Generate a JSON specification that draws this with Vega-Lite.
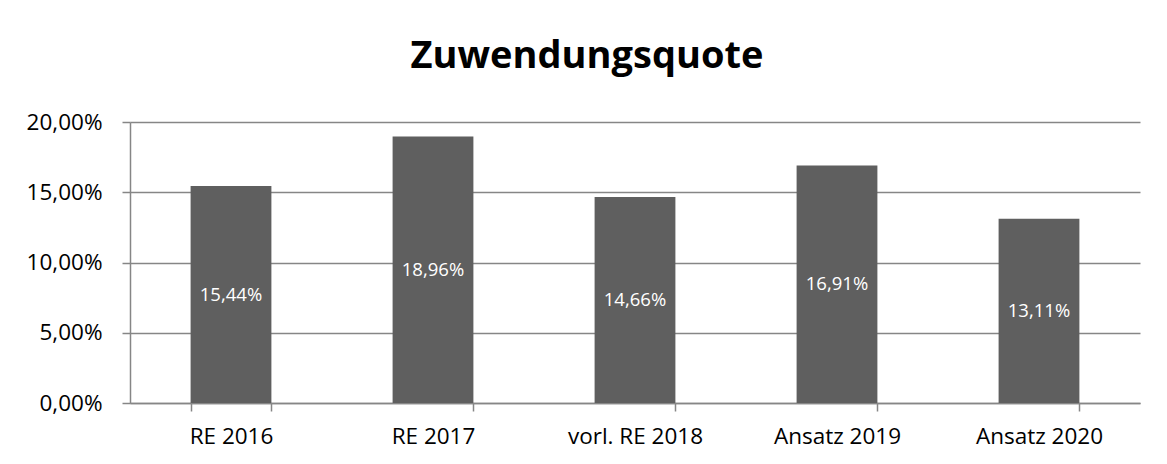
{
  "$schema": "https://vega.github.io/schema/vega-lite/v6.json",
  "width": 1010,
  "height": 281,
  "autosize": {"type": "none"},
  "padding": {"left": 130, "top": 122, "right": 27, "bottom": 61},
  "background": "white",
  "title": {
    "text": "Zuwendungsquote",
    "font": "Open Sans",
    "fontSize": 38,
    "fontWeight": "bold",
    "color": "#000000",
    "anchor": "middle",
    "baseline": "alphabetic",
    "offset": 5,
    "dx": -48
  },
  "data": {
    "values": [
      {"kategorie": "RE 2016", "quote": 0.1544},
      {"kategorie": "RE 2017", "quote": 0.1896},
      {"kategorie": "vorl. RE 2018", "quote": 0.1466},
      {"kategorie": "Ansatz 2019", "quote": 0.1691},
      {"kategorie": "Ansatz 2020", "quote": 0.1311}
    ]
  },
  "encoding": {
    "x": {
      "field": "kategorie",
      "type": "nominal",
      "sort": null,
      "scale": {"paddingInner": 0.6, "paddingOuter": 0.3},
      "axis": {
        "title": null,
        "labelAngle": 0,
        "labelFont": "Open Sans",
        "labelFontSize": 22.5,
        "labelColor": "#000000",
        "labelPadding": 14,
        "domainColor": "#868686",
        "domainWidth": 1.5,
        "tickColor": "#868686",
        "tickWidth": 1.5,
        "tickSize": 8,
        "tickBand": "extent",
        "grid": false
      }
    }
  },
  "layer": [
    {
      "mark": {"type": "bar", "color": "#5f5f5f"},
      "encoding": {
        "y": {
          "field": "quote",
          "type": "quantitative",
          "scale": {"domain": [0, 0.2], "nice": false},
          "axis": {
            "title": null,
            "values": [0, 0.05, 0.1, 0.15, 0.2],
            "format": ".2%",
            "labelFont": "Open Sans",
            "labelFontSize": 22.5,
            "labelColor": "#000000",
            "labelPadding": 20,
            "domainColor": "#868686",
            "domainWidth": 1.5,
            "tickColor": "#868686",
            "tickWidth": 1.5,
            "tickSize": 8,
            "grid": true,
            "gridColor": "#868686",
            "gridWidth": 1.5
          }
        }
      }
    },
    {
      "transform": [{"calculate": "datum.quote / 2", "as": "mitte"}],
      "mark": {
        "type": "text",
        "color": "#ffffff",
        "font": "Open Sans",
        "fontSize": 18.5,
        "baseline": "middle",
        "align": "center"
      },
      "encoding": {
        "y": {"field": "mitte", "type": "quantitative"},
        "text": {"field": "quote", "type": "quantitative", "format": ".2%"}
      }
    }
  ],
  "config": {
    "view": {"stroke": null},
    "locale": {
      "number": {
        "decimal": ",",
        "thousands": ".",
        "grouping": [3],
        "currency": ["", " €"]
      }
    }
  }
}
